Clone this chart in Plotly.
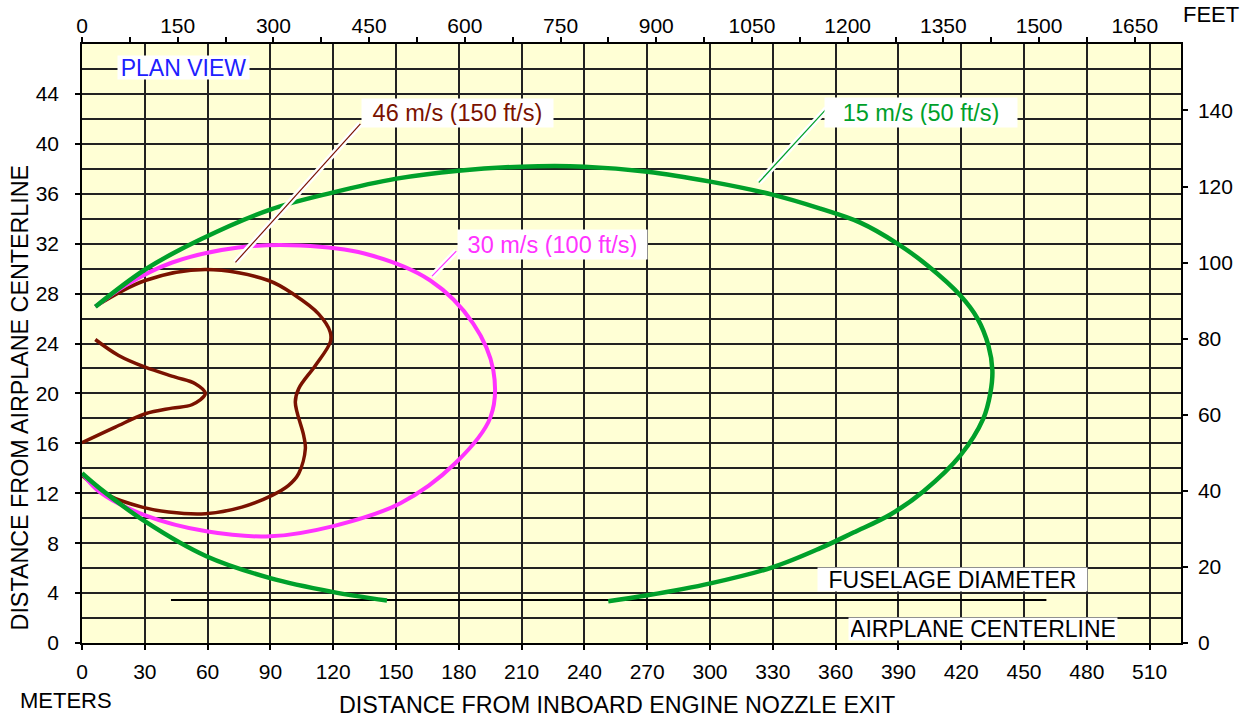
import plotly.graph_objects as go

M_PER_FT = 0.3048
X_MAX_M = 525
Y_MAX_M = 48

# axis ticks
x_ticks_m = list(range(0, 511, 30))
y_ticks_m = list(range(0, 45, 4))
y_grid_m = list(range(2, 48, 2))
top_ticks_ft = list(range(0, 1651, 75))
top_labels_ft = [str(v) if v % 150 == 0 else "" for v in top_ticks_ft]
right_ticks_ft = list(range(0, 141, 20))

# 15 m/s (50 ft/s) contour - outer branch
v15_upper_x = [6.4, 30.2, 56.5, 89.9, 119.6, 150.2, 179.8, 209.9, 240.0, 270.1, 300.2, 329.8,
               352.7, 371.8, 389.5, 403.9, 419.6, 427.8, 433.0, 434.9, 433.9, 430.6, 419.6,
               401.9, 386.2, 368.5, 352.7, 329.8, 300.2, 270.1, 251.4]
v15_upper_y = [26.95, 29.93, 32.33, 34.73, 36.09, 37.21, 37.85, 38.17, 38.17, 37.77, 36.97,
               35.93, 34.81, 33.69, 32.01, 30.25, 27.85, 26.0, 23.84, 21.84, 20.0, 18.0, 15.03,
               12.14, 10.3, 8.85, 7.6, 6.06, 4.78, 3.82, 3.34]
# 15 m/s lower branch
v15_lower_x = [0, 8.8, 30.3, 59.4, 89.9, 119.6, 145.7]
v15_lower_y = [13.6, 12.35, 9.72, 6.95, 5.2, 4.1, 3.4]

# 30 m/s (100 ft/s) contour
v30_x = [6.4, 20.7, 43.1, 74.7, 104.3, 134.9, 166.4, 186.9, 196.5, 195.1, 178.3, 152.1, 119.6,
         89.9, 59.4, 30.2, 8.7, 0.1]
v30_y = [26.95, 28.65, 30.49, 31.69, 31.85, 31.21, 29.05, 25.6, 21.84, 18.08, 14.4, 11.2, 9.35,
         8.55, 8.95, 10.23, 12.07, 13.59]

# 46 m/s (150 ft/s) contour - outer
v46_outer_x = [6.35, 30.2, 58.9, 89.1, 101.9, 113.0, 118.6, 118.6, 111.5, 103.5, 101.9, 105.9,
               106.7, 103.5, 98.7, 90.8, 76.4, 58.9, 41.4, 28.7, 12.7, 0]
v46_outer_y = [26.97, 29.05, 29.93, 29.05, 27.85, 26.38, 24.91, 24.11, 22.24, 20.38, 19.3, 16.63,
               15.57, 13.57, 12.63, 11.83, 10.89, 10.36, 10.49, 10.89, 11.83, 13.43]
# 46 m/s - inner
v46_inner_x = [6.35, 17.5, 30.2, 44.6, 54.1, 58.9, 52.5, 43.0, 30.2, 15.9, 0]
v46_inner_y = [24.32, 23.04, 22.1, 21.3, 20.78, 20.0, 19.09, 18.82, 18.37, 17.3, 16.05]

# fuselage diameter line
fuselage_x = [42.5, 460.7]
fuselage_y = [3.45, 3.45]

# labels: text, x (m), y (m)
label_text = ["PLAN VIEW", "46 m/s (150 ft/s)", "30 m/s (100 ft/s)", "15 m/s (50 ft/s)",
              "FUSELAGE DIAMETER", "AIRPLANE CENTERLINE"]
label_x = [48.3, 179.4, 224.7, 400.9, 415.9, 430.3]
label_y = [46.13, 42.46, 31.96, 42.49, 5.12, 1.11]

# leader lines (x0, y0) -> (x1, y1)
leader_x0 = [133.0, 178.8, 355.6]
leader_y0 = [41.6, 31.4, 42.8]
leader_x1 = [73.3, 167.2, 323.3]
leader_y1 = [30.5, 29.4, 36.9]

FONT = "Liberation Sans, Arial, Helvetica, sans-serif"
BROWN = "#7A1200"
MAGENTA = "#FF33FF"
GREEN = "#00A02A"
BLUE = "#2020FF"

label_style = [  # colour, font size, box width, box height
    (BLUE, 23, 131, 23),
    (BROWN, 23.5, 191, 28),
    (MAGENTA, 23.5, 189, 29),
    (GREEN, 23.5, 192, 29),
    ("black", 23, 269, 23),
    ("black", 23, 268, 22),
]
leader_colors = [BROWN, MAGENTA, GREEN]

fig = go.Figure()

def add_curve(x, y, color, width):
    fig.add_trace(go.Scatter(x=x, y=y, mode="lines",
                             line=dict(color=color, width=width, shape="spline", smoothing=1.0),
                             showlegend=False, hoverinfo="skip"))

fig.add_trace(go.Scatter(x=fuselage_x, y=fuselage_y, mode="lines",
                         line=dict(color="black", width=2), showlegend=False, hoverinfo="skip"))
add_curve(v46_outer_x, v46_outer_y, BROWN, 3.5)
add_curve(v46_inner_x, v46_inner_y, BROWN, 3.5)
add_curve(v30_x, v30_y, MAGENTA, 4)
add_curve(v15_lower_x, v15_lower_y, GREEN, 4.5)
add_curve(v15_upper_x, v15_upper_y, GREEN, 4.5)

# invisible trace to anchor the feet axes
fig.add_trace(go.Scatter(x=[0], y=[0], xaxis="x2", yaxis="y2", mode="markers",
                         marker=dict(opacity=0), showlegend=False, hoverinfo="skip"))

for x0, y0, x1, y1, c in zip(leader_x0, leader_y0, leader_x1, leader_y1, leader_colors):
    fig.add_shape(type="line", x0=x0, y0=y0, x1=x1, y1=y1, xref="x", yref="y",
                  line=dict(color="white", width=6))
    fig.add_shape(type="line", x0=x0, y0=y0, x1=x1, y1=y1, xref="x", yref="y",
                  line=dict(color=c, width=1.2))

for text, x, y, (c, fs, bw, bh) in zip(label_text, label_x, label_y, label_style):
    fig.add_annotation(x=x, y=y, xref="x", yref="y", text=text, showarrow=False,
                       font=dict(family=FONT, size=fs, color=c),
                       bgcolor="white", borderpad=2, width=bw - 4, height=bh - 4,
                       align="center", valign="middle",
                       xanchor="center", yanchor="middle")

# axis titles and unit labels
fig.add_annotation(x=0.4868, y=-0.1035, xref="paper", yref="paper",
                   text="DISTANCE FROM INBOARD ENGINE NOZZLE EXIT", showarrow=False,
                   font=dict(family=FONT, size=23.3, color="black"),
                   xanchor="center", yanchor="middle")
fig.add_annotation(x=-0.0564, y=0.41, xref="paper", yref="paper",
                   text="DISTANCE FROM AIRPLANE CENTERLINE", showarrow=False, textangle=-90,
                   font=dict(family=FONT, size=23.3, color="black"),
                   xanchor="center", yanchor="middle")
fig.add_annotation(x=-0.0147, y=-0.0968, xref="paper", yref="paper", text="METERS",
                   showarrow=False, font=dict(family=FONT, size=22, color="black"),
                   xanchor="center", yanchor="middle")
fig.add_annotation(x=1.0269, y=1.0496, xref="paper", yref="paper", text="FEET",
                   showarrow=False, font=dict(family=FONT, size=22, color="black"),
                   xanchor="center", yanchor="middle")

GRID = "#222222"
tickfont = dict(family=FONT, size=21, color="black")
common = dict(ticks="outside", ticklen=5, tickwidth=1.5, tickcolor="black",
              showline=True, linecolor="black", linewidth=1.5,
              zeroline=False, tickfont=tickfont, fixedrange=True, tickmode="array")

fig.update_layout(
    width=1255, height=718,
    margin=dict(l=82, r=74, t=44, b=75),
    paper_bgcolor="white",
    plot_bgcolor="#FFFFD5",
    showlegend=False,
    xaxis=dict(range=[0, X_MAX_M], tickvals=x_ticks_m,
               showgrid=True, gridcolor=GRID, gridwidth=1.5,
               ticklabelstandoff=4, **common),
    yaxis=dict(range=[0, Y_MAX_M], tickvals=y_ticks_m,
               showgrid=True, gridcolor=GRID, gridwidth=1.5,
               minor=dict(tickmode="array", tickvals=y_grid_m, showgrid=True,
                          gridcolor=GRID, gridwidth=1.5, ticks=""),
               ticklabelstandoff=12, **common),
    xaxis2=dict(overlaying="x", side="top", range=[0, X_MAX_M / M_PER_FT],
                tickvals=top_ticks_ft, ticktext=top_labels_ft,
                showgrid=False, ticklabelstandoff=-4, **common),
    yaxis2=dict(overlaying="y", side="right", range=[0, Y_MAX_M / M_PER_FT],
                tickvals=right_ticks_ft, showgrid=False,
                ticklabelstandoff=6, **common),
)

fig.write_html("out.html", config={"displayModeBar": False},
               post_script="document.body.style.margin='0';")
